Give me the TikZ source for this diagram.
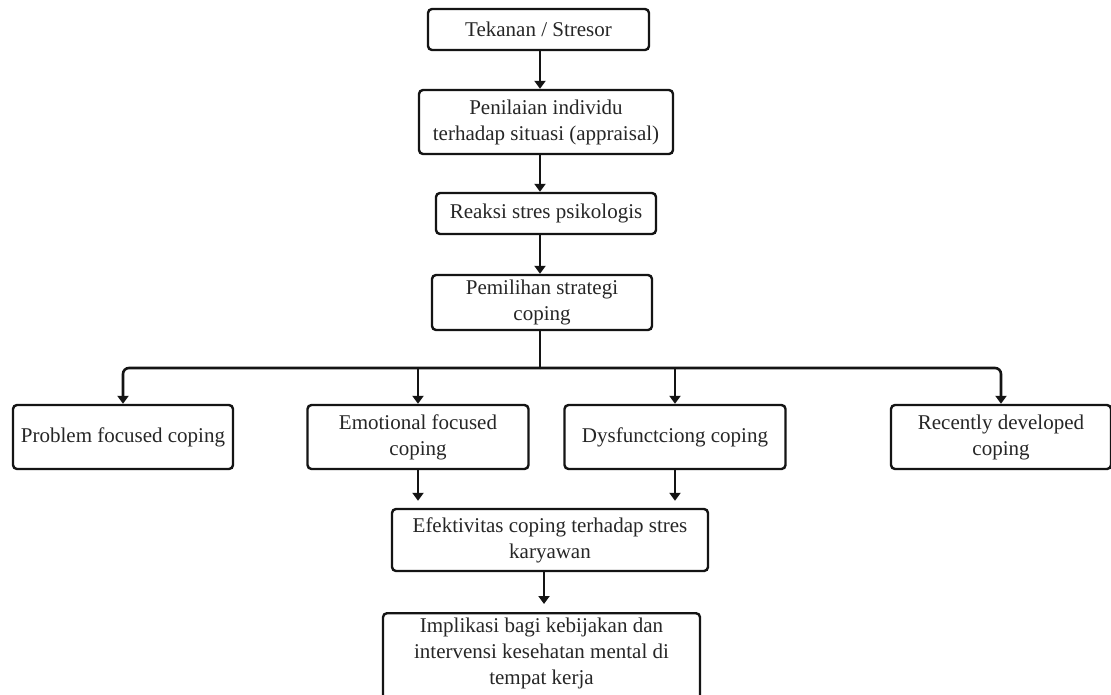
\documentclass[tikz,border=0pt]{standalone}
\usepackage{fontspec}
\setmainfont{Liberation Serif}
\usetikzlibrary{arrows.meta}
\definecolor{cGaris}{HTML}{141414}
\definecolor{cTeks}{HTML}{262626}
\tikzset{
    x=1pt, y=-1pt, font=\fontsize{21}{26}\selectfont,
    kotak/.style={draw=cGaris, line width=2.4pt, rounded corners=4pt,
                  fill=white, text=cTeks, align=center, inner sep=0pt},
    panah/.style={-{Triangle[length=8pt, width=11pt]}, line width=2.6pt,
                  cGaris},
    garis/.style={line width=2.6pt, cGaris},
}

\begin{document}
\begin{tikzpicture}
    \useasboundingbox[fill=white] (0,0) rectangle (1111,694);
    \coordinate (poros) at (540,0);

    \node[kotak, minimum width=221pt, minimum height=41pt] (tekanan)
        at (538.5,29.5) {Tekanan / Stresor};
    \node[kotak, minimum width=254pt, minimum height=64pt] (penilaian)
        at (546,122) {Penilaian individu\\terhadap situasi (appraisal)};
    \node[kotak, minimum width=220pt, minimum height=41pt] (reaksi)
        at (546,213.5) {Reaksi stres psikologis};
    \node[kotak, minimum width=220pt, minimum height=55pt] (pemilihan)
        at (542,302.5) {Pemilihan strategi\\coping};

    \node[kotak, minimum width=220pt, minimum height=64pt] (problem)
        at (123,437) {Problem focused coping};
    \node[kotak, minimum width=221pt, minimum height=64pt] (emosi)
        at (418,437) {Emotional focused\\coping};
    \node[kotak, minimum width=221pt, minimum height=64pt] (disfungsi)
        at (675,437) {Dysfunctciong coping};
    \node[kotak, minimum width=220pt, minimum height=64pt] (baru)
        at (1001,437) {Recently developed\\coping};

    \node[kotak, minimum width=316pt, minimum height=62pt] (efektivitas)
        at (550,540) {Efektivitas coping terhadap stres\\karyawan};
    \node[kotak, minimum width=317pt, anchor=north, inner ysep=5pt,
          text depth=24pt] (implikasi)
        at (541.5,612) {Implikasi bagi kebijakan dan\\intervensi kesehatan mental di\\tempat kerja};

    \draw[panah] (tekanan.south -| poros) -- (penilaian.north -| poros);
    \draw[panah] (penilaian.south -| poros) -- (reaksi.north -| poros);
    \draw[panah] (reaksi.south -| poros) -- (pemilihan.north -| poros);

    \coordinate (cabang) at (540,368);
    \draw[garis] (pemilihan.south -| poros) -- (cabang);
    \draw[panah, rounded corners=6pt] (cabang) -| (problem.north);
    \draw[panah, rounded corners=6pt] (cabang) -| (baru.north);
    \draw[panah] (cabang -| emosi.north) -- (emosi.north);
    \draw[panah] (cabang -| disfungsi.north) -- (disfungsi.north);

    \draw[panah, shorten >=7pt] (emosi.south) -- (emosi.south |- efektivitas.north);
    \draw[panah, shorten >=7pt] (disfungsi.south) -- (disfungsi.south |- efektivitas.north);
    \draw[panah, shorten >=8pt] (efektivitas.south -| 544,0) -- (implikasi.north -| 544,0);
\end{tikzpicture}
\end{document}
